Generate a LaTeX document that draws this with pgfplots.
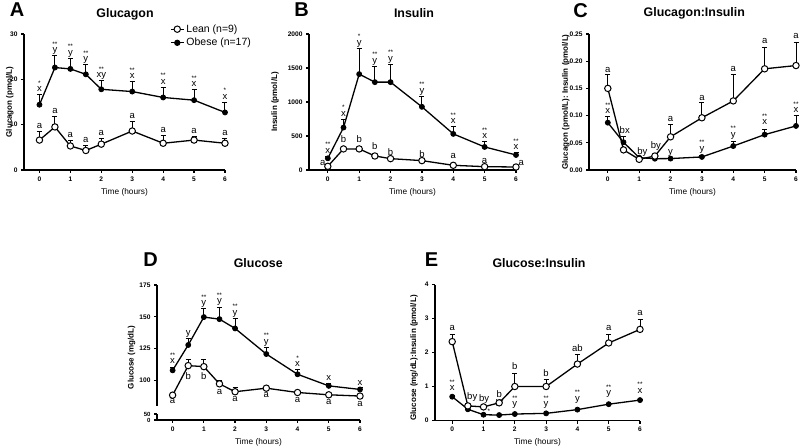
\documentclass[border=0pt]{standalone}
\usepackage{fontspec}
\setmainfont{Liberation Sans}
\usepackage{pgfplots}
\pgfplotsset{compat=1.18}
\newcommand{\lf}{\fontsize{9.5}{10}\selectfont}
\newcommand{\stf}{\fontsize{6.5}{7}\selectfont}
\tikzset{
  lab/.style={anchor=base, yshift=3pt, inner sep=0pt, font=\lf},
  labb/.style={anchor=base, inner sep=0pt, font=\lf},
  star/.style={anchor=base, yshift=6.5pt, inner sep=0pt, font=\stf},
}
% above error-bar top
\newcommand{\La}[3]{\node[lab] at (axis cs:#1,#2) {#3};}
\newcommand{\Sa}[4]{\node[lab] (q) at (axis cs:#1,#2) {#4}; \node[star] at (q.base) {#3};}
% at baseline
\newcommand{\Lb}[3]{\node[labb] at (axis cs:#1,#2) {#3};}
\newcommand{\Sb}[4]{\node[labb] (q) at (axis cs:#1,#2) {#4}; \node[star] at (q.base) {#3};}
\pgfplotsset{
  panel/.style={
    scale only axis, anchor=south west, clip=false,
    axis lines*=left, axis line style={-, line width=1.6pt, black},
    tick align=outside, major tick length=3pt,
    tick style={black, line width=1.2pt},
    xtick={0,1,2,3,4,5,6}, xticklabels={0,1,2,3,4,5,6}, xmax=6,
    ticklabel style={font=\fontsize{6.6}{7}\selectfont\bfseries},
    xlabel={Time (hours)},
    xlabel style={at={(axis description cs:0.5,0)}, anchor=center, yshift=-22pt, font=\fontsize{8.3}{9}\selectfont},
    ylabel style={anchor=center, font=\fontsize{8}{9}\selectfont\bfseries},
  },
  ebar/.style={error bars/y dir=plus, error bars/y explicit,
    error bars/error bar style={line width=1pt, black},
    error bars/error mark options={rotate=90, mark size=2.5pt, line width=1pt, black}},
  obese/.style={black, line width=1.3pt, mark=*, mark size=2.5pt, mark options={solid, fill=black, line width=0.8pt}, ebar},
  lean/.style={black, line width=1.3pt, mark=*, mark size=3.2pt, mark options={solid, fill=white, line width=1pt}, ebar},
}
\begin{document}
\begin{tikzpicture}
\path[use as bounding box] (0pt,0pt) rectangle (800pt,447pt);
% panel letters and titles
\node[font=\bfseries\fontsize{20}{22}\selectfont] at (17pt,437.5pt) {A};
\node[font=\bfseries\fontsize{20}{22}\selectfont] at (301.7pt,437pt) {B};
\node[font=\bfseries\fontsize{20}{22}\selectfont] at (580.5pt,436pt) {C};
\node[font=\bfseries\fontsize{20}{22}\selectfont] at (150.5pt,187.5pt) {D};
\node[font=\bfseries\fontsize{20}{22}\selectfont] at (431.5pt,187.5pt) {E};
\node[font=\bfseries\fontsize{12.4}{14}\selectfont] at (125pt,433pt) {Glucagon};
\node[font=\bfseries\fontsize{12.4}{14}\selectfont] at (414pt,433.7pt) {Insulin};
\node[font=\bfseries\fontsize{12.4}{14}\selectfont] at (694.3pt,433.7pt) {Glucagon:Insulin};
\node[font=\bfseries\fontsize{12.4}{14}\selectfont] at (258.3pt,183.7pt) {Glucose};
\node[font=\bfseries\fontsize{12.4}{14}\selectfont] at (539pt,183.7pt) {Glucose:Insulin};

% ---------------- A
\begin{axis}[panel, at={(24pt,277pt)}, width=201pt, height=136pt,
  xmin=-0.5, ymin=0, ymax=30, ytick={0,10,20,30}, yticklabels={0,10,20,30},
  ylabel={Glucagon (pmol/L)}, ylabel style={at={(axis description cs:-0.07,0.5)}},
  legend style={at={(axis description cs:0.726,1.085)}, anchor=north west, draw=none, fill=none,
    font=\fontsize{10.5}{12}\selectfont, inner sep=0pt, row sep=0.5pt, legend cell align=left},
  legend image code/.code={\draw[mark repeat=2,mark phase=2,#1] plot coordinates {(0pt,0pt)(6.5pt,0pt)(13pt,0pt)};}]
\addlegendimage{black, line width=1.3pt, mark=*, mark size=3.2pt, mark options={fill=white, line width=1pt}}
\addlegendentry{Lean (n=9)}
\addlegendimage{black, line width=1.3pt, mark=*, mark size=2.5pt, mark options={fill=black}}
\addlegendentry{Obese (n=17)}
\addplot[forget plot, obese] table[x index=0, y index=1, y error index=2, row sep=\\] {
0 14.4 2.2\\ 0.5 22.6 2.6\\ 1 22.3 2.4\\ 1.5 21.1 2.1\\ 2 17.8 1.9\\ 3 17.3 2.2\\ 4 16.0 2.3\\ 5 15.4 2.3\\ 6 12.7 2.2\\};
\addplot[forget plot, lean] table[x index=0, y index=1, y error index=2, row sep=\\] {
0 6.6 2.0\\ 0.5 9.5 2.4\\ 1 5.3 1.1\\ 1.5 4.3 1.0\\ 2 5.7 1.3\\ 3 8.6 2.2\\ 4 5.9 1.6\\ 5 6.6 0.7\\ 6 5.9 1.1\\};
\Sa{0}{16.6}{*}{x}\Sa{0.5}{25.2}{**}{y}\Sa{1}{24.7}{**}{y}\Sa{1.5}{23.2}{**}{y}\Sa{2}{19.7}{**}{xy}
\Sa{3}{19.5}{**}{x}\Sa{4}{18.3}{**}{x}\Sa{5}{17.7}{**}{x}\Sa{6}{14.9}{*}{x}
\La{0}{8.6}{a}\La{0.5}{11.9}{a}\La{1}{6.4}{a}\La{1.5}{5.3}{a}\La{2}{7.0}{a}\La{3}{10.8}{a}\La{4}{7.5}{a}\La{5}{7.3}{a}\La{6}{7.0}{a}
\end{axis}

% ---------------- B
\begin{axis}[panel, at={(309pt,277pt)}, width=207pt, height=136pt,
  xmin=-0.6, ymin=0, ymax=2000, ytick={0,500,1000,1500,2000}, yticklabels={0,500,1000,1500,2000},
  ylabel={Insulin (pmol/L)}, ylabel style={at={(axis description cs:-0.164,0.5)}}]
\addplot[obese] table[x index=0, y index=1, y error index=2, row sep=\\] {
0 172 30\\ 0.5 624 123\\ 1 1410 380\\ 1.5 1292 231\\ 2 1292 261\\ 3 929 157\\ 4 531 108\\ 5 339 79\\ 6 221 30\\};
\addplot[lean] table[x index=0, y index=1, y error index=2, row sep=\\] {
0 54 10\\ 0.5 310 40\\ 1 310 40\\ 1.5 206 25\\ 2 167 20\\ 3 138 20\\ 4 69 10\\ 5 49 8\\ 6 44 8\\};
\Sa{0}{200}{**}{x}\Sa{0.5}{747}{*}{x}\Sa{1}{1790}{*}{y}\Sa{1.5}{1523}{**}{y}\Sa{2}{1553}{**}{y}
\Sa{3}{1086}{**}{y}\Sa{4}{639}{**}{x}\Sa{5}{418}{**}{x}\Sa{6}{251}{**}{x}
\node[font=\lf] at (axis cs:-0.16,103) {a};
\La{0.5}{361}{b}\La{1}{361}{b}\La{1.5}{250}{b}\La{2}{176}{b}\La{3}{141}{b}\La{4}{125}{a}\La{5}{47}{a}
\node[font=\lf] at (axis cs:6.17,103) {a};
\end{axis}

% ---------------- C
\begin{axis}[panel, at={(589pt,277pt)}, width=207pt, height=136pt,
  xmin=-0.6, ymin=0, ymax=0.25, ytick={0,0.05,0.10,0.15,0.20,0.25}, yticklabels={0.00,0.05,0.10,0.15,0.20,0.25},
  ylabel={Glucagon (pmol/L): Insulin (pmol/L)}, ylabel style={at={(axis description cs:-0.112,0.5)}}]
\addplot[obese] table[x index=0, y index=1, y error index=2, row sep=\\] {
0 0.087 0.012\\ 0.5 0.051 0.010\\ 1 0.0227 0.003\\ 1.5 0.0208 0.002\\ 2 0.021 0.002\\ 3 0.024 0.003\\ 4 0.044 0.009\\ 5 0.065 0.010\\ 6 0.081 0.020\\};
\addplot[lean] table[x index=0, y index=1, y error index=2, row sep=\\] {
0 0.150 0.026\\ 0.5 0.037 0.003\\ 1 0.0196 0.003\\ 1.5 0.0257 0.003\\ 2 0.061 0.022\\ 3 0.096 0.028\\ 4 0.127 0.048\\ 5 0.186 0.039\\ 6 0.192 0.043\\};
\La{0}{0.174}{a}\La{2}{0.0836}{a}\La{3}{0.1222}{a}\La{4}{0.1755}{a}\La{5}{0.227}{a}\La{6}{0.236}{a}
\Sa{0}{0.0983}{**}{x}
\Lb{0.54}{0.0671}{bx}\Lb{1.1}{0.0276}{by}\Lb{1.53}{0.0386}{by}\Lb{2}{0.0294}{y}
\Sa{3}{0.0294}{**}{y}\Sa{4}{0.055}{**}{y}\Sa{5}{0.0776}{**}{x}\Sa{6}{0.100}{**}{x}
\end{axis}

% ---------------- D (upper part)
\begin{axis}[panel, at={(157pt,41pt)}, width=203pt, height=121pt,
  axis x line=none, axis y line*=left, xlabel={},
  xmin=-0.5, ymin=80, ymax=175, ytick={100,125,150,175}, yticklabels={100,125,150,175},
  ylabel={Glucose (mg/dL)}, ylabel style={at={(axis description cs:-0.125,0.40)}}]
\addplot[obese] table[x index=0, y index=1, y error index=2, row sep=\\] {
0 108 2.5\\ 0.5 127.9 5\\ 1 149.8 6.5\\ 1.5 148.2 9.5\\ 2 140.9 8\\ 3 120.8 5.5\\ 4 104.9 3.7\\ 5 95.8 2\\ 6 93 1.3\\};
\addplot[lean] table[x index=0, y index=1, y error index=2, row sep=\\] {
0 88.5 1\\ 0.5 111.7 4.7\\ 1 110.9 5.5\\ 1.5 97.4 3\\ 2 91.2 3.3\\ 3 94 1.6\\ 4 90.6 1\\ 5 88.8 1\\ 6 87.8 1\\};
\Sa{0}{110.7}{**}{x}\La{0.5}{132.8}{y}\Sa{1}{156.3}{**}{y}\Sa{1.5}{157.8}{**}{y}\Sa{2}{148.7}{**}{y}
\Sa{3}{126.3}{**}{y}\Sa{4}{108.6}{*}{x}\La{5}{97.7}{x}\La{6}{94.0}{x}
\Lb{0}{81.9}{a}\Lb{0.5}{100.8}{b}\Lb{1}{100.8}{b}\Lb{1.5}{88.9}{a}\Lb{2}{83.2}{a}\Lb{3}{86.6}{a}\Lb{4}{82.7}{a}\Lb{5}{80.9}{a}\Lb{6}{79.3}{a}
\end{axis}
% ---------------- D (lower part)
\begin{axis}[panel, at={(157pt,27pt)}, width=203pt, height=6pt,
  xmin=-0.5, ymin=0, ymax=50, ytick={0,50}, yticklabels={0,50},
  yticklabel style={font=\fontsize{6}{6}\selectfont\bfseries}]
\end{axis}

% ---------------- E
\begin{axis}[panel, at={(435pt,26.5pt)}, width=205pt, height=136pt,
  xmin=-0.55, ymin=0, ymax=4, ytick={0,1,2,3,4}, yticklabels={0,1,2,3,4},
  ylabel={Glucose (mg/dL):Insulin (pmol/L)}, ylabel style={at={(axis description cs:-0.102,0.46)}}]
\addplot[obese] table[x index=0, y index=1, y error index=2, row sep=\\] {
0 0.70 0.04\\ 0.5 0.33 0.03\\ 1 0.17 0.02\\ 1.5 0.16 0.02\\ 2 0.19 0.02\\ 3 0.21 0.02\\ 4 0.32 0.03\\ 5 0.48 0.03\\ 6 0.60 0.03\\};
\addplot[lean] table[x index=0, y index=1, y error index=2, row sep=\\] {
0 2.32 0.21\\ 0.5 0.43 0.03\\ 1 0.40 0.03\\ 1.5 0.52 0.05\\ 2 1.0 0.39\\ 3 1.0 0.22\\ 4 1.66 0.27\\ 5 2.28 0.26\\ 6 2.68 0.3\\};
\Lb{0}{2.66}{a}\Lb{0.64}{0.63}{by}\Lb{1.02}{0.56}{by}\Lb{1.5}{0.68}{b}\Lb{2}{1.49}{b}\Lb{3}{1.29}{b}
\Lb{4}{2.04}{ab}\Lb{5}{2.65}{a}\Lb{6}{3.10}{a}
\Sb{0}{0.87}{**}{x}
\node[font=\stf, inner sep=0pt] at (axis cs:1.17,0.28) {*};
\Lb{1.52}{0.46}{y{\stf*}}
\Sb{2}{0.41}{**}{y}\Sb{3}{0.41}{**}{y}\Sb{4}{0.56}{**}{y}\Sb{5}{0.73}{**}{y}\Sb{6}{0.80}{**}{x}
\end{axis}
\end{tikzpicture}
\end{document}
